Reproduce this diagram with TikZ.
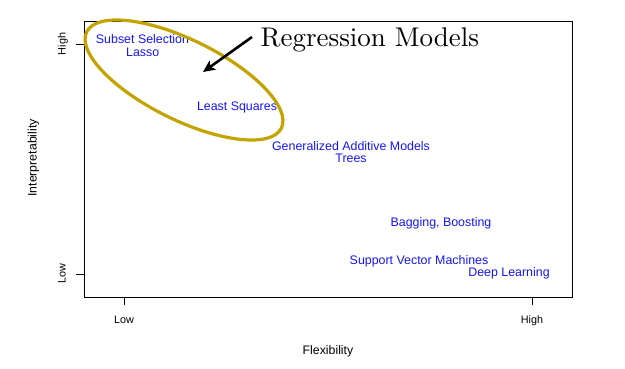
\documentclass[tikz,border=0pt]{standalone}
\usepackage{fontspec}
\newfontfamily\arialf{Liberation Sans}
\newfontfamily\titlef{lmroman10-regular.otf}
\usetikzlibrary{arrows.meta}
\definecolor{ellgold}{RGB}{195,163,0}
\definecolor{lblblue}{RGB}{20,20,255}
\tikzset{
  method/.style={text=lblblue, font=\arialf\fontsize{12.4bp}{14bp}\selectfont, anchor=base, inner sep=0pt},
  ticklbl/.style={font=\arialf\fontsize{10.8bp}{12bp}\selectfont, anchor=base, inner sep=0pt},
  axislbl/.style={font=\arialf\fontsize{12.3bp}{14bp}\selectfont, anchor=base, inner sep=0pt},
  axisline/.style={line width=0.8bp, black},
}
\begin{document}
\begin{tikzpicture}[x=1bp, y=-1bp]
\useasboundingbox (0,0) rectangle (625,368);
% frame and ticks
\draw[axisline] (84,21) rectangle (572,297);
\coordinate (yh0) at (76,44); \coordinate (yh1) at (84,44);
\coordinate (yl0) at (76,274); \coordinate (yl1) at (84,274);
\coordinate (xl0) at (124,297); \coordinate (xl1) at (124,305);
\coordinate (xh0) at (532,297); \coordinate (xh1) at (532,305);
\draw[axisline] (yh0) -- (yh1);
\draw[axisline] (yl0) -- (yl1);
\draw[axisline] (xl0) -- (xl1);
\draw[axisline] (xh0) -- (xh1);
% tick labels
\node[ticklbl, rotate=90] (ythigh) at (65.5,44) {High};
\node[ticklbl, rotate=90] (ytlow) at (65.5,274) {Low};
\node[ticklbl] (xtlow) at (124,323.7) {Low};
\node[ticklbl] (xthigh) at (532,323.7) {High};
% axis labels
\node[axislbl, rotate=90] (ylab) at (36.5,158) {Interpretability};
\node[axislbl] (xlab) at (328,354) {Flexibility};
% methods
\node[method] (subset) at (142.5,43.5) {Subset Selection};
\node[method] (lasso) at (142.7,56) {Lasso};
\node[method] (ls) at (237,110.7) {Least Squares};
\node[method] (gam) at (351,150.7) {Generalized Additive Models};
\node[method] (trees) at (351,162.7) {Trees};
\node[method] (bag) at (441,226) {Bagging, Boosting};
\node[method] (svm) at (419,264) {Support Vector Machines};
\node[method] (dl) at (509,276.7) {Deep Learning};
% ellipse
\draw[ellgold, line width=3.2bp, rotate around={-26.3:(184,80)}] (184,80) ellipse [x radius=108.6, y radius=40];
% title and arrow
\node[anchor=base west, inner sep=0pt, font=\titlef\fontsize{27bp}{30bp}\selectfont] (title) at (260.5,46.5) {Regression Models};
\coordinate (astart) at (252,37);
\coordinate (aend) at (203,72);
\draw[line width=2.6bp, -{Stealth[length=12bp, width=11bp, inset=3bp]}] (astart) -- (aend);
\end{tikzpicture}
\end{document}
